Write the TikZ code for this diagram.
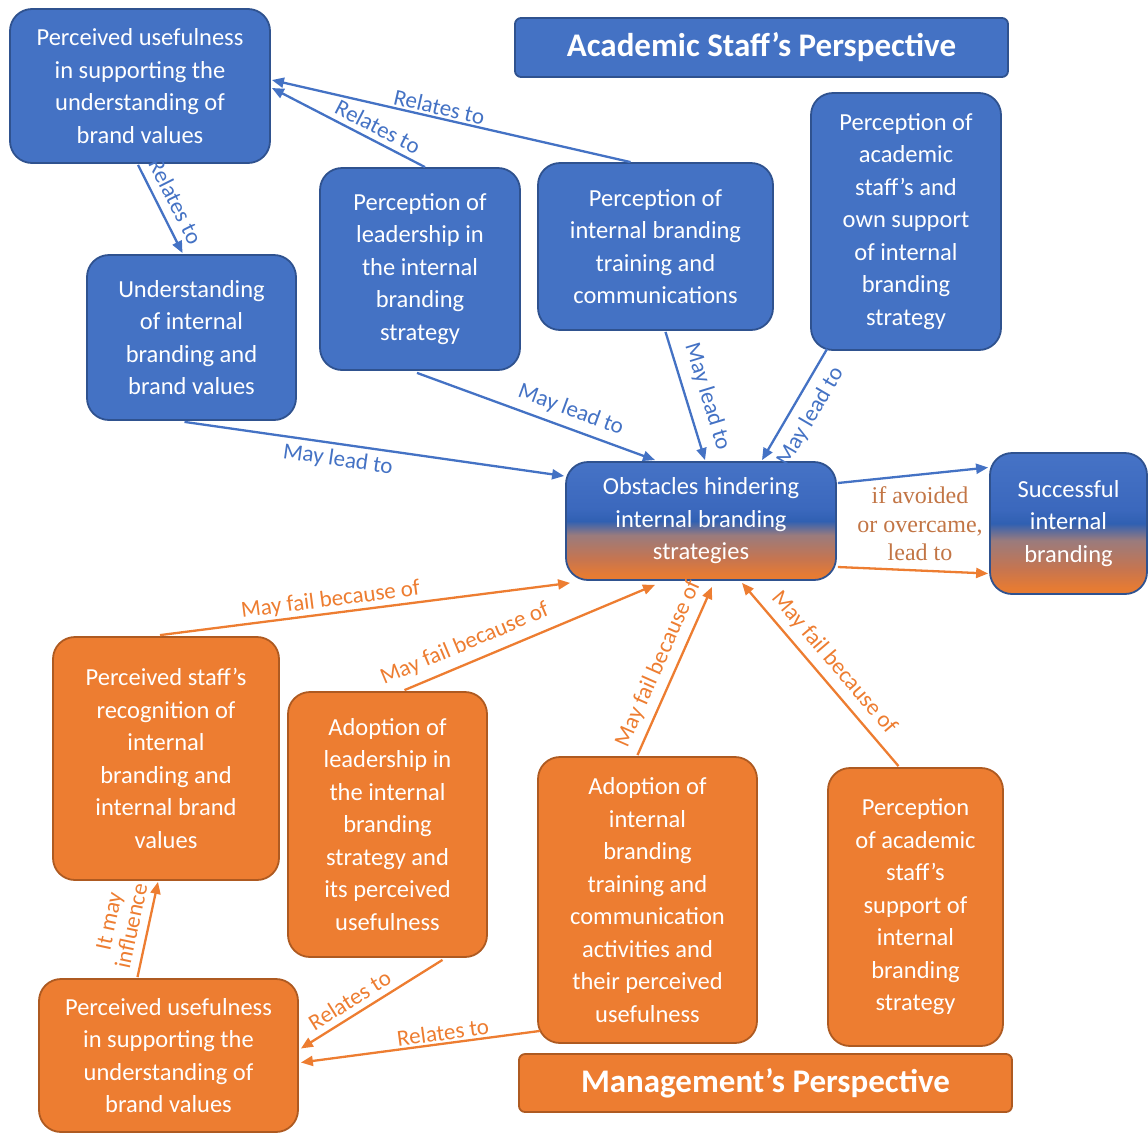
\documentclass[tikz,border=0pt]{standalone}
\usepackage{fontspec}
\setmainfont{Carlito}
\newfontfamily\notefont{Liberation Serif}
\usetikzlibrary{arrows.meta,calc}

\definecolor{ibblue}{HTML}{4472C4}
\definecolor{ibblueD}{HTML}{2F528F}
\definecolor{ibor}{HTML}{ED7D31}
\definecolor{iborD}{HTML}{AE5A21}
\definecolor{shTop}{HTML}{4673C6}
\definecolor{shMid}{HTML}{3B68BD}
\definecolor{shDark}{HTML}{3060B2}
\definecolor{shMauve}{HTML}{9A7B7D}
\definecolor{shWarm}{HTML}{C67550}
\definecolor{shBot}{HTML}{E67B33}
\definecolor{notecol}{HTML}{C27545}

% blue-to-orange fill of the two mixed boxes
\pgfdeclareverticalshading{blueorange}{100bp}{color(0bp)=(shBot); color(27bp)=(shBot); color(34bp)=(shWarm); color(44bp)=(shMauve); color(50bp)=(shDark); color(55bp)=(shMid); color(75bp)=(shTop); color(100bp)=(shTop)}

\tikzset{
  box/.style={rounded corners=22pt, line width=1.8pt, align=center, text=white,
    inner sep=0pt, font=\fontsize{24.5}{32.5}\selectfont},
  bluebox/.style={box, fill=ibblue, draw=ibblueD},
  orbox/.style={box, fill=ibor, draw=iborD},
  mixbox/.style={box, shade, shading=blueorange, draw=ibblueD},
  titlebox/.style={rounded corners=6pt, line width=1.8pt, align=center, text=white,
    inner sep=0pt, font=\fontsize{33}{36}\selectfont\bfseries},
  blarrow/.style={draw=ibblue, line width=2.3pt, -{Triangle[length=12pt,width=10pt]}},
  orarrow/.style={draw=ibor, line width=2.3pt, -{Triangle[length=12pt,width=10pt]}},
  lbl/.style={font=\fontsize{23}{25}\selectfont, sloped, inner sep=2pt},
  bllbl/.style={lbl, text=ibblue},
  orlbl/.style={lbl, text=ibor},
}

\begin{document}
\begin{tikzpicture}[x=1pt,y=-1pt]
\useasboundingbox (0,0) rectangle (1148,1133);

% ---------- academic staff's side ----------
\node[titlebox, fill=ibblue, draw=ibblueD, minimum width=493pt, minimum height=59pt]
  (tAcad) at (761.5,47.5) {Academic Staff’s Perspective};

\node[bluebox, minimum width=260pt, minimum height=154pt] (aUse) at (140,86)
  {Perceived usefulness\\in supporting the\\understanding of\\brand values};
\node[bluebox, minimum width=209pt, minimum height=165pt] (aUnd) at (191.5,337.5)
  {Understanding\\of internal\\branding and\\brand values};
\node[bluebox, minimum width=200pt, minimum height=202pt] (aLead) at (420,269)
  {Perception of\\leadership in\\the internal\\branding\\strategy};
\node[bluebox, minimum width=235pt, minimum height=167pt] (aTrain) at (655.5,246.5)
  {Perception of\\internal branding\\training and\\communications};
\node[bluebox, minimum width=190pt, minimum height=257pt] (aSupp) at (906,221.5)
  {Perception of\\academic\\staff’s and\\own support\\of internal\\branding\\strategy};

% ---------- centre ----------
\node[mixbox, minimum width=270pt, minimum height=118pt] (obst) at (701,521)
  {Obstacles hindering\\internal branding\\strategies};
\node[mixbox, minimum width=157pt, minimum height=141pt] (succ) at (1068.5,523.5)
  {Successful\\internal\\branding};

% ---------- management's side ----------
\node[orbox, minimum width=226pt, minimum height=243pt] (mRec) at (166,758.5)
  {Perceived staff’s\\recognition of\\internal\\branding and\\internal brand\\values};
\node[orbox, minimum width=199pt, minimum height=265pt] (mLead) at (387.5,824.5)
  {Adoption of\\leadership in\\the internal\\branding\\strategy and\\its perceived\\usefulness};
\node[orbox, minimum width=219pt, minimum height=286pt] (mTrain) at (647.5,900)
  {Adoption of\\internal\\branding\\training and\\communication\\activities and\\their perceived\\usefulness};
\node[orbox, minimum width=175pt, minimum height=278pt] (mSupp) at (915.5,907)
  {Perception\\of academic\\staff’s\\support of\\internal\\branding\\strategy};
\node[orbox, minimum width=259pt, minimum height=153pt] (mUse) at (168.5,1055.5)
  {Perceived usefulness\\in supporting the\\understanding of\\brand values};

\node[titlebox, fill=ibor, draw=iborD, minimum width=493pt, minimum height=58pt]
  (tMan) at (765.5,1083) {Management’s Perspective};

% ---------- blue connectors ----------
\draw[blarrow] ($(aTrain.north)+(-25,0)$) -- node[bllbl, pos=0.54, above] {Relates to} ($(aUse.east)+(1,-6)$);
\draw[blarrow] ($(aLead.north)+(5,0)$) -- node[bllbl, pos=0.35, above=3pt] {Relates to} ($(aUse.east)+(1,2)$);
\draw[blarrow] ($(aUse.south)+(-2,1)$) -- node[bllbl, pos=0.5, above=6pt] {Relates to} ($(aUnd.north)+(-9,-1)$);
\draw[blarrow] ($(aUnd.south)+(-7,1)$) -- node[bllbl, pos=0.41, below=3pt] {May lead to} ($(obst.west)+(-1,-45)$);
\draw[blarrow] ($(aLead.south)+(-3,2)$) -- node[bllbl, pos=0.62, above=5pt] {May lead to} ($(obst.north)+(-46,-1)$);
\draw[blarrow] ($(aTrain.south)+(10,1)$) -- node[bllbl, pos=0.55, above=8pt] {May lead to} ($(obst.north)+(4,-1)$);
\draw[blarrow] ($(aSupp.south west)+(17,-2)$) -- node[bllbl, pos=0.52, below=7pt] {May lead to} ($(obst.north)+(61,-1)$);

% ---------- links to success ----------
\draw[blarrow] ($(obst.east)+(1,-38)$) -- ($(succ.west)+(-1,-56)$);
\draw[orarrow] ($(obst.east)+(1,46)$) -- ($(succ.west)+(-1,50)$);
\node[font=\notefont\fontsize{24}{28.5}\selectfont, text=notecol, align=center, inner sep=0pt]
  (cond) at (920,524) {if avoided\\or overcame,\\lead to};

% ---------- orange connectors ----------
\draw[orarrow] ($(mRec.north)+(-6,-1)$) -- node[orlbl, pos=0.42, above] {May fail because of} ($(obst.south west)+(5,2)$);
\draw[orarrow] ($(mLead.north)+(17,-1)$) -- node[orlbl, pos=0.27, above=6pt] {May fail because of} ($(obst.south)+(-46,4)$);
\draw[orarrow] ($(mTrain.north)+(-10,-1)$) -- node[orlbl, pos=0.5, above=5pt] {May fail because of} ($(obst.south)+(11,6)$);
\draw[orarrow] ($(mSupp.north)+(-17,-1)$) -- node[orlbl, pos=0.5, above=5pt] {May fail because of} ($(obst.south)+(41,2)$);
\draw[orarrow] ($(mUse.north)+(-31,-1)$) -- node[orlbl, pos=0.5, above=6pt, align=center, font=\fontsize{23}{23}\selectfont] {It may\\influence} ($(mRec.south)+(-8,1)$);
\draw[orarrow] ($(mLead.south)+(55,2)$) -- node[orlbl, pos=0.6, above=4pt] {Relates to} ($(mUse.east)+(2,-7)$);
\draw[orarrow] ($(mTrain.south west)+(3,-13)$) -- node[orlbl, pos=0.4, above] {Relates to} ($(mUse.east)+(2,7)$);
\end{tikzpicture}
\end{document}
